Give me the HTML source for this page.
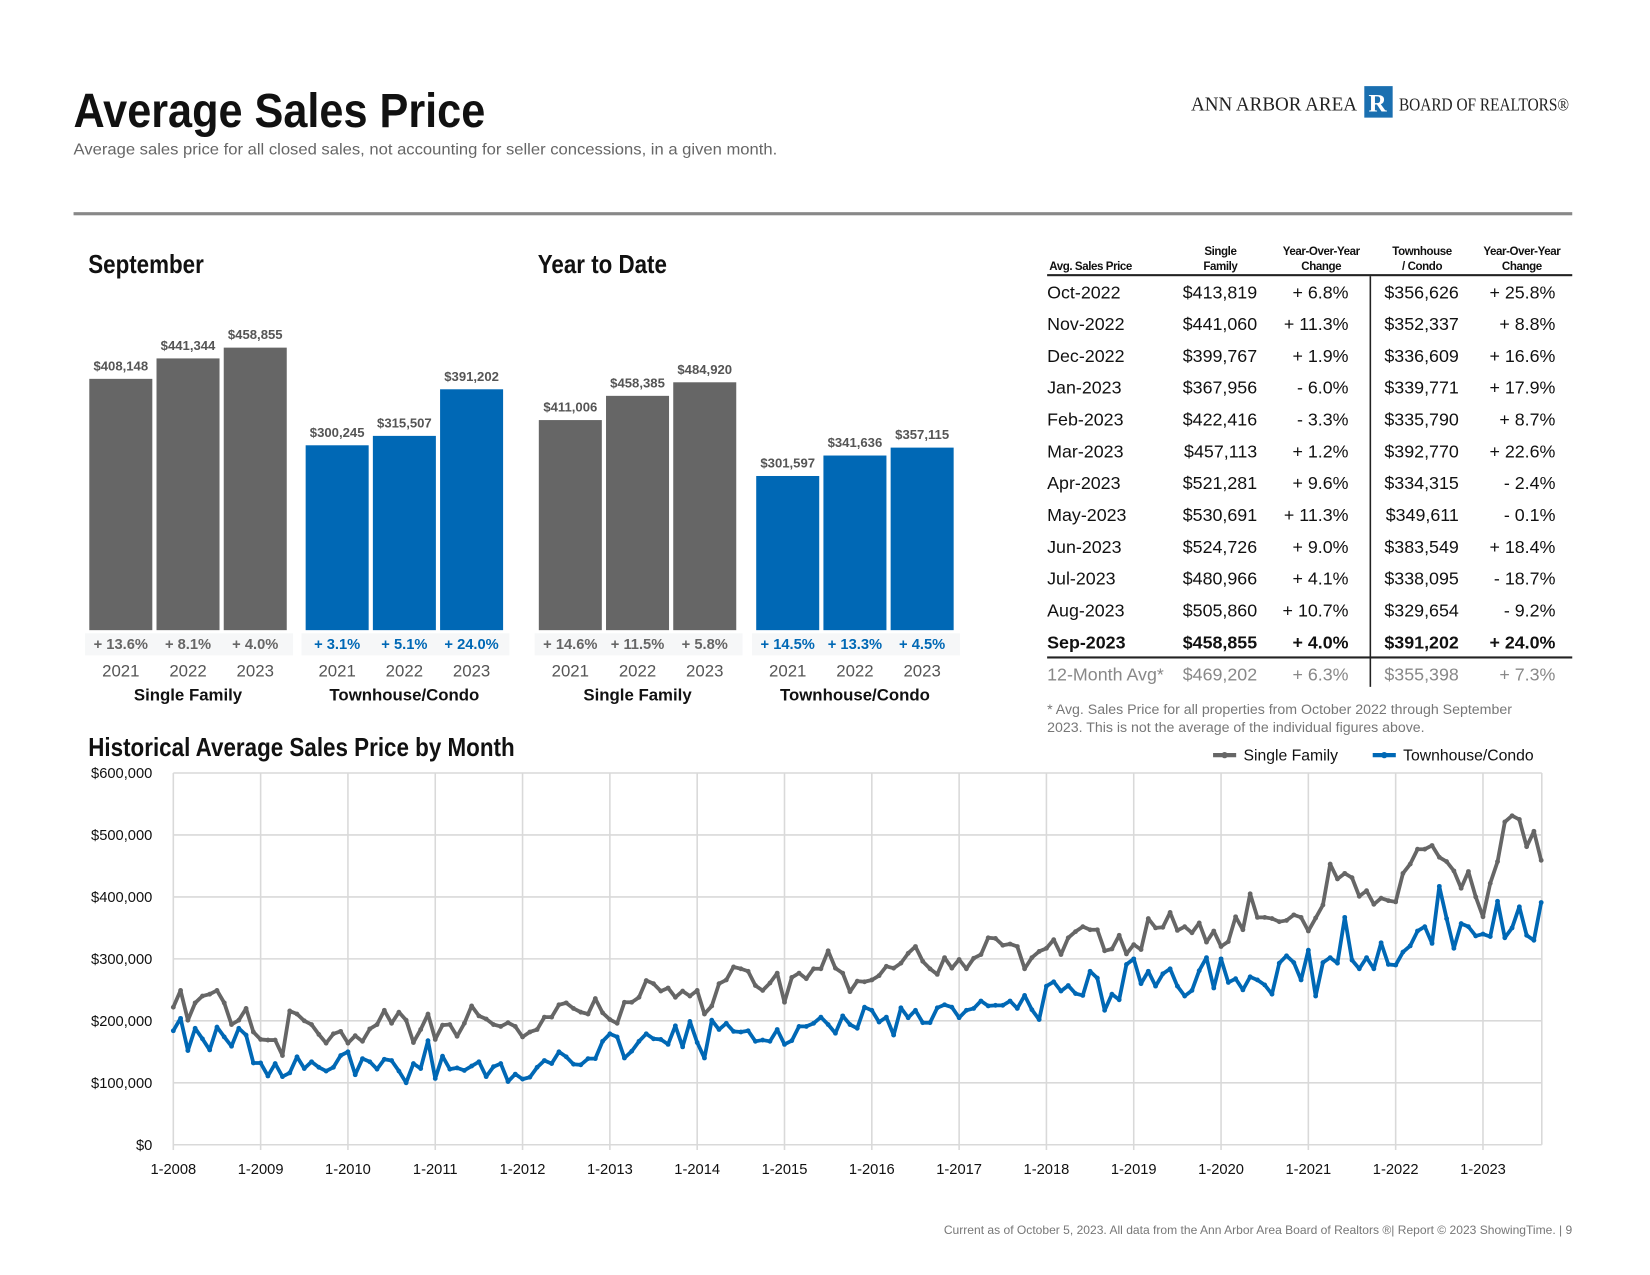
<!DOCTYPE html>
<html><head><meta charset="utf-8"><style>
html,body{margin:0;padding:0;background:#fff;}
svg{display:block;font-family:"Liberation Sans",Arial,sans-serif;}
</style></head><body>
<svg id="root" width="1650" height="1275" viewBox="0 0 1571 1214" xmlns="http://www.w3.org/2000/svg">
<text x="70" y="121" font-family="'Liberation Sans Narrow','Liberation Sans',sans-serif" font-weight="bold" font-size="46" textLength="392" lengthAdjust="spacingAndGlyphs" fill="#111">Average Sales Price</text>
<text x="70" y="147" font-size="15" textLength="670" lengthAdjust="spacingAndGlyphs" fill="#666">Average sales price for all closed sales, not accounting for seller concessions, in a given month.</text>
<g>
<text x="1134" y="105" font-family="'Liberation Serif',serif" font-size="19" fill="#222" textLength="158" lengthAdjust="spacingAndGlyphs">ANN ARBOR AREA</text>
<rect x="1299" y="82" width="27" height="30" fill="#1a6fb0"/><text x="1303" y="106" font-family="'Liberation Serif',serif" font-weight="bold" font-size="24" fill="#fff">R</text>
<text x="1332" y="105" font-family="'Liberation Serif',serif" font-size="17" fill="#222" textLength="162" lengthAdjust="spacingAndGlyphs">BOARD OF REALTORS®</text>
</g>
<rect x="70" y="202" width="1427" height="3" fill="#888"/>
<text x="84" y="260" font-family="'Liberation Sans Narrow','Liberation Sans',sans-serif" font-weight="bold" font-size="25" textLength="110" lengthAdjust="spacingAndGlyphs" fill="#111">September</text>
<text x="512" y="260" font-family="'Liberation Sans Narrow','Liberation Sans',sans-serif" font-weight="bold" font-size="25" textLength="123" lengthAdjust="spacingAndGlyphs" fill="#111">Year to Date</text>
<g id="bars"></g>
<g id="table"></g>
<text x="997" y="680" font-size="13.5" fill="#777">* Avg. Sales Price for all properties from October 2022 through September</text>
<text x="997" y="697" font-size="13.5" fill="#777">2023. This is not the average of the individual figures above.</text>
<text x="84" y="720" font-family="'Liberation Sans Narrow','Liberation Sans',sans-serif" font-weight="bold" font-size="25" textLength="406" lengthAdjust="spacingAndGlyphs" fill="#111">Historical Average Sales Price by Month</text>
<g>
<line x1="1155" y1="719" x2="1177" y2="719" stroke="#666" stroke-width="4"/><circle cx="1166" cy="719" r="3" fill="#666"/>
<text x="1184" y="724" font-size="15" fill="#111">Single Family</text>
<line x1="1307" y1="719" x2="1329" y2="719" stroke="#0068b5" stroke-width="4"/><circle cx="1318" cy="719" r="3" fill="#0068b5"/>
<text x="1336" y="724" font-size="15" fill="#111">Townhouse/Condo</text>
</g>
<g id="line"></g>
<text x="1497" y="1175" text-anchor="end" font-size="11.5" fill="#777">Current as of October 5, 2023. All data from the Ann Arbor Area Board of Realtors ®| Report © 2023 ShowingTime.  |  9</text>
</svg>
<script>
const NS="http://www.w3.org/2000/svg";
// Bar chart data
const barYears=["2021","2022","2023"];
const sepSingle=[408148,441344,458855];
const sepTown=[300245,315507,391202];
const sepSingleChg=["+ 13.6%","+ 8.1%","+ 4.0%"];
const sepTownChg=["+ 3.1%","+ 5.1%","+ 24.0%"];
const ytdSingle=[411006,458385,484920];
const ytdTown=[301597,341636,357115];
const ytdSingleChg=["+ 14.6%","+ 11.5%","+ 5.8%"];
const ytdTownChg=["+ 14.5%","+ 13.3%","+ 4.5%"];
// Table data
const tblMonths=["Oct-2022","Nov-2022","Dec-2022","Jan-2023","Feb-2023","Mar-2023","Apr-2023","May-2023","Jun-2023","Jul-2023","Aug-2023","Sep-2023"];
const tblSingle=["$413,819","$441,060","$399,767","$367,956","$422,416","$457,113","$521,281","$530,691","$524,726","$480,966","$505,860","$458,855"];
const tblSingleChg=["+ 6.8%","+ 11.3%","+ 1.9%","- 6.0%","- 3.3%","+ 1.2%","+ 9.6%","+ 11.3%","+ 9.0%","+ 4.1%","+ 10.7%","+ 4.0%"];
const tblTown=["$356,626","$352,337","$336,609","$339,771","$335,790","$392,770","$334,315","$349,611","$383,549","$338,095","$329,654","$391,202"];
const tblTownChg=["+ 25.8%","+ 8.8%","+ 16.6%","+ 17.9%","+ 8.7%","+ 22.6%","- 2.4%","- 0.1%","+ 18.4%","- 18.7%","- 9.2%","+ 24.0%"];
const tblAvg=["12-Month Avg*","$469,202","+ 6.3%","$355,398","+ 7.3%"];
// Line chart data (thousands $), Jan 2008 - Sep 2023
const singleFamily=[222,249,201,229,240,243,249,229,194,201,220,182,
170,169,169,144,216,211,200,194,178,164,179,183,
164,176,167,187,194,217,196,214,201,165,186,211,
170,193,194,175,196,224,208,203,194,191,197,191,
174,182,186,206,206,226,229,220,214,211,236,213,
202,196,230,230,238,265,260,248,253,238,248,240,
249,211,224,260,266,287,284,280,257,249,261,277,
230,270,277,268,284,284,313,285,277,247,264,263,
266,273,288,285,293,309,320,296,284,275,302,285,
299,284,301,307,334,333,322,324,320,284,302,312,
317,331,307,334,344,352,347,347,313,316,338,308,
323,315,365,350,351,375,346,352,342,358,327,345,
320,328,368,347,405,367,367,365,360,362,371,367,
345,366,387,453,429,438,431,401,410,388,398,394,
392,438,453,477,477,483,464,457,442,414,441,400,
368,422,457,521,531,525,481,506,459];
const townhouse=[184,204,152,188,171,153,190,174,159,188,177,132,
132,111,131,110,116,142,123,134,125,119,125,144,
150,113,139,134,122,138,136,119,100,131,123,168,
107,143,122,124,120,127,134,110,126,131,102,114,
106,109,125,136,131,150,142,130,129,139,139,167,
179,174,140,151,167,179,171,170,162,192,158,199,
165,140,201,186,196,183,182,184,167,169,167,186,
162,168,191,191,196,206,194,180,208,194,188,222,
217,198,206,177,221,205,217,197,197,221,226,222,
205,217,220,232,224,225,225,232,220,241,218,202,
256,263,248,257,244,241,280,269,217,243,234,291,
300,260,280,256,276,284,256,240,249,281,302,253,
300,262,268,250,271,266,258,243,293,305,294,266,
314,240,294,302,293,367,298,284,302,284,326,291,
290,311,321,345,352,325,417,365,317,357,352,337,
340,336,393,334,350,384,338,330,391];
const yTicks=[0,100000,200000,300000,400000,500000,600000];
const yTickLabels=["$0","$100,000","$200,000","$300,000","$400,000","$500,000","$600,000"];
const xTickLabels=["1-2008","1-2009","1-2010","1-2011","1-2012","1-2013","1-2014","1-2015","1-2016","1-2017","1-2018","1-2019","1-2020","1-2021","1-2022","1-2023"];

function mk(tag,attrs,parent,txt){const e=document.createElementNS(NS,tag);for(const k in attrs)e.setAttribute(k,attrs[k]);if(txt!==undefined)e.textContent=txt;parent.appendChild(e);return e;}
const fmt=v=>"$"+v.toLocaleString("en-US");

// Bars
const bars=document.getElementById("bars");
const baseY=600;
function group(x0,vals,chg,color,chgColor,scale,label,name){
  const g=mk("g",{},bars);
  
  
  mk("rect",{x:x0-4,y:603,width:198,height:21,fill:"#f6f7f8"},g);
  vals.forEach((v,i)=>{
    const x=x0+i*64,h=v*scale;
    const r=mk("rect",{x:x,y:baseY-h,width:60,height:h,fill:color},g);
    
    
    const t=mk("text",{x:x+30,y:baseY-h-8,"text-anchor":"middle","font-size":12.5,"font-weight":"bold",fill:"#555"},g,fmt(v));
    
    
    const c=mk("text",{x:x+30,y:618,"text-anchor":"middle","font-size":14,"font-weight":"bold",fill:chgColor},g,chg[i]);
    
    
    const yl=mk("text",{x:x+30,y:644,"text-anchor":"middle","font-size":16,fill:"#555"},g,barYears[i]);
    
    
  });
  const gl=mk("text",{x:x0+94,y:667,"text-anchor":"middle","font-size":16,"font-weight":"bold",fill:"#111"},g,label);
  
  
}
const sSep=269/458855, sYtd=236/484920;
group(85,sepSingle,sepSingleChg,"#666","#666",sSep,"Single Family","sep-single-family");
group(291,sepTown,sepTownChg,"#0068b5","#0068b5",sSep,"Townhouse/Condo","sep-townhouse");
group(513,ytdSingle,ytdSingleChg,"#666","#666",sYtd,"Single Family","ytd-single-family");
group(720,ytdTown,ytdTownChg,"#0068b5","#0068b5",sYtd,"Townhouse/Condo","ytd-townhouse");

// Table
const tb=document.getElementById("table");
const hdr=[["Avg. Sales Price",999,"start"],["Single|Family",1162,"middle"],["Year-Over-Year|Change",1258,"middle"],["Townhouse|/ Condo",1354,"middle"],["Year-Over-Year|Change",1449,"middle"]];
hdr.forEach(h=>{const parts=h[0].split("|");
  parts.forEach((p,j)=>{const t=mk("text",{x:h[1],y:parts.length==1?257:243+j*14,"text-anchor":h[2],"font-size":11,"font-weight":"bold",fill:"#111","letter-spacing":"-0.4"},tb,p);
  
  });});
mk("rect",{x:997,y:261,width:500,height:2,fill:"#222"},tb);
mk("rect",{x:1304,y:263,width:1.5,height:391,fill:"#222"},tb);
const colX=[997,1197,1284,1389,1481];
tblMonths.forEach((m,i)=>{
  const y=284+i*30.3, b=i==11;
  const vals=[m,tblSingle[i],tblSingleChg[i],tblTown[i],tblTownChg[i]];
  vals.forEach((v,j)=>{const t=mk("text",{x:colX[j],y:y,"text-anchor":j==0?"start":"end","font-size":17,"font-weight":b?"bold":"normal",fill:"#111"},tb,v);
    
    });
});
mk("rect",{x:997,y:625,width:500,height:2,fill:"#222"},tb);
tblAvg.forEach((v,j)=>{const t=mk("text",{x:colX[j],y:648,"text-anchor":j==0?"start":"end","font-size":17,fill:"#888"},tb,v);
  
  });

// Line chart
const lg=document.getElementById("line");


const X0=165,PX_MONTH=(1412-165)/180,Y0=1090,PX_VAL=354/600000;
const xS=i=>X0+i*PX_MONTH, yS=v=>Y0-v*PX_VAL;
const plotR=1468;
yTicks.forEach((t,i)=>{
  mk("line",{x1:X0,x2:plotR,y1:yS(t),y2:yS(t),stroke:"#d9d9d9","stroke-width":1.5},lg);
  const l=mk("text",{x:145,y:yS(t)+5,"text-anchor":"end","font-size":14,fill:"#111"},lg,yTickLabels[i]);
  
  
});
xTickLabels.forEach((lab,k)=>{
  const x=xS(k*12);
  mk("line",{x1:x,x2:x,y1:yS(600000),y2:Y0+5,stroke:"#d9d9d9","stroke-width":1.5},lg);
  const l=mk("text",{x:x,y:1118,"text-anchor":"middle","font-size":14,fill:"#111"},lg,lab);
  
  
});
mk("line",{x1:plotR,x2:plotR,y1:yS(600000),y2:Y0,stroke:"#d9d9d9","stroke-width":1.5},lg);
function series(arr,color,name){
  const pts=arr.map((v,i)=>xS(i).toFixed(1)+","+yS(v*1000).toFixed(1)).join(" ");
  const p=mk("polyline",{points:pts,fill:"none",stroke:color,"stroke-width":3.6,"stroke-linejoin":"round"},lg);
  
  
  arr.forEach((v,i)=>{const c=mk("circle",{cx:xS(i),cy:yS(v*1000),r:2.3,fill:color},lg);
    
    });
}
series(singleFamily,"#666","single-family-line");
series(townhouse,"#0068b5","townhouse-line");
</script>
</body></html>
